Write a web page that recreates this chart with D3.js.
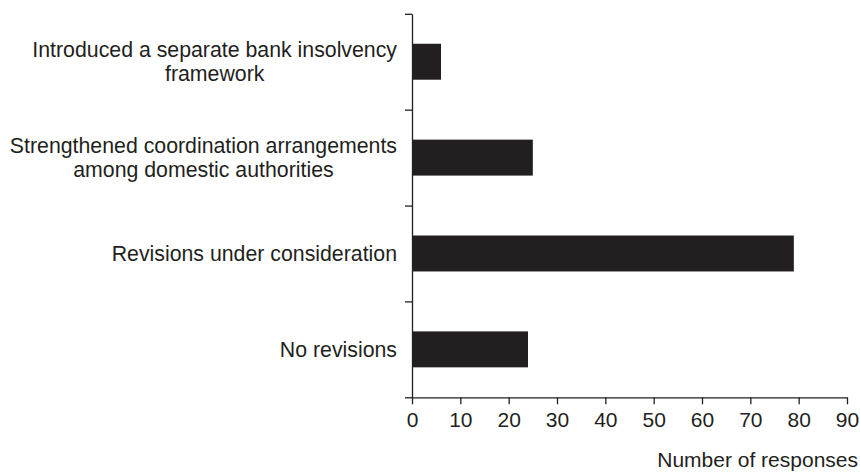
<!DOCTYPE html>
<meta charset="utf-8">
<html>
<head>
    <title>Bank insolvency responses</title>
    <style>
        body { margin: 0; background: #fff; }
        text { font-family: "Liberation Sans", Arial, Helvetica, sans-serif; fill: #231f20; }
    </style>
</head>
<body>
    <script src="https://cdn.jsdelivr.net/npm/d3@7"></script>
    <svg width="860" height="472"></svg>
    <script>

        // data
        var categories = [
            ["Introduced a separate bank insolvency", "framework"],
            ["Strengthened coordination arrangements", "among domestic authorities"],
            ["Revisions under consideration"],
            ["No revisions"]
        ];
        var responses = [6, 25, 79, 24];
        var xTicks = [0, 10, 20, 30, 40, 50, 60, 70, 80, 90];
        var xTitle = "Number of responses";

        var svg = d3.select("svg"),
            ink = "#231f20",
            plotLeft = 412, plotRight = 847,
            plotTop = 13.8, plotBottom = 397.3,
            fontSize = 21,
            labelSize = 21.3;

        var x = d3.scaleLinear().domain([0, 90]).range([plotLeft, plotRight]);

        var y = d3.scaleBand()
            .domain(d3.range(categories.length))
            .range([plotTop, plotBottom])
            .paddingInner(0.625)
            .paddingOuter(0.3125);

        // boundary ticks between the categories
        var yEdges = d3.scaleLinear().domain([0, categories.length]).range([plotTop, plotBottom]);

        svg.selectAll("rect.bar")
            .data(responses)
            .enter().append("rect")
            .attr("class", "bar")
            .attr("x", x(0))
            .attr("y", function(d, i) { return y(i); })
            .attr("width", function(d) { return x(d) - x(0); })
            .attr("height", y.bandwidth())
            .attr("fill", ink);

        var xAxis = svg.append("g")
            .attr("transform", "translate(0," + plotBottom + ")")
            .call(d3.axisBottom(x).tickValues(xTicks).tickSize(7).tickSizeOuter(0).tickPadding(8));

        var yAxis = svg.append("g")
            .attr("transform", "translate(" + plotLeft + ",0)")
            .call(d3.axisLeft(yEdges).ticks(categories.length).tickFormat("").tickSize(7).tickSizeOuter(0));

        [xAxis, yAxis].forEach(function(g) {
            g.selectAll("path, line").attr("stroke", ink).attr("stroke-width", 1.3);
            g.selectAll("text")
                .style("font-family", "'Liberation Sans', Arial, Helvetica, sans-serif")
                .style("font-size", fontSize + "px")
                .attr("fill", ink);
        });

        // category labels: lines centred on each other, block right aligned
        var labelRight = 397, lineHeight = 23.5;
        categories.forEach(function(lines, i) {
            var g = svg.append("g");
            var cy = y(i) + y.bandwidth() / 2;
            var texts = lines.map(function(s, j) {
                return g.append("text")
                    .attr("y", cy + (j - (lines.length - 1) / 2) * lineHeight)
                    .attr("dy", "0.35em")
                    .attr("text-anchor", "middle")
                    .style("font-size", labelSize + "px")
                    .text(s);
            });
            var maxW = d3.max(texts, function(t) { return t.node().getComputedTextLength(); });
            texts.forEach(function(t) { t.attr("x", labelRight - maxW / 2); });
        });

        svg.append("text")
            .attr("x", 858)
            .attr("y", 467)
            .attr("text-anchor", "end")
            .style("font-size", fontSize + "px")
            .text(xTitle);

    </script>
</body>
</html>
